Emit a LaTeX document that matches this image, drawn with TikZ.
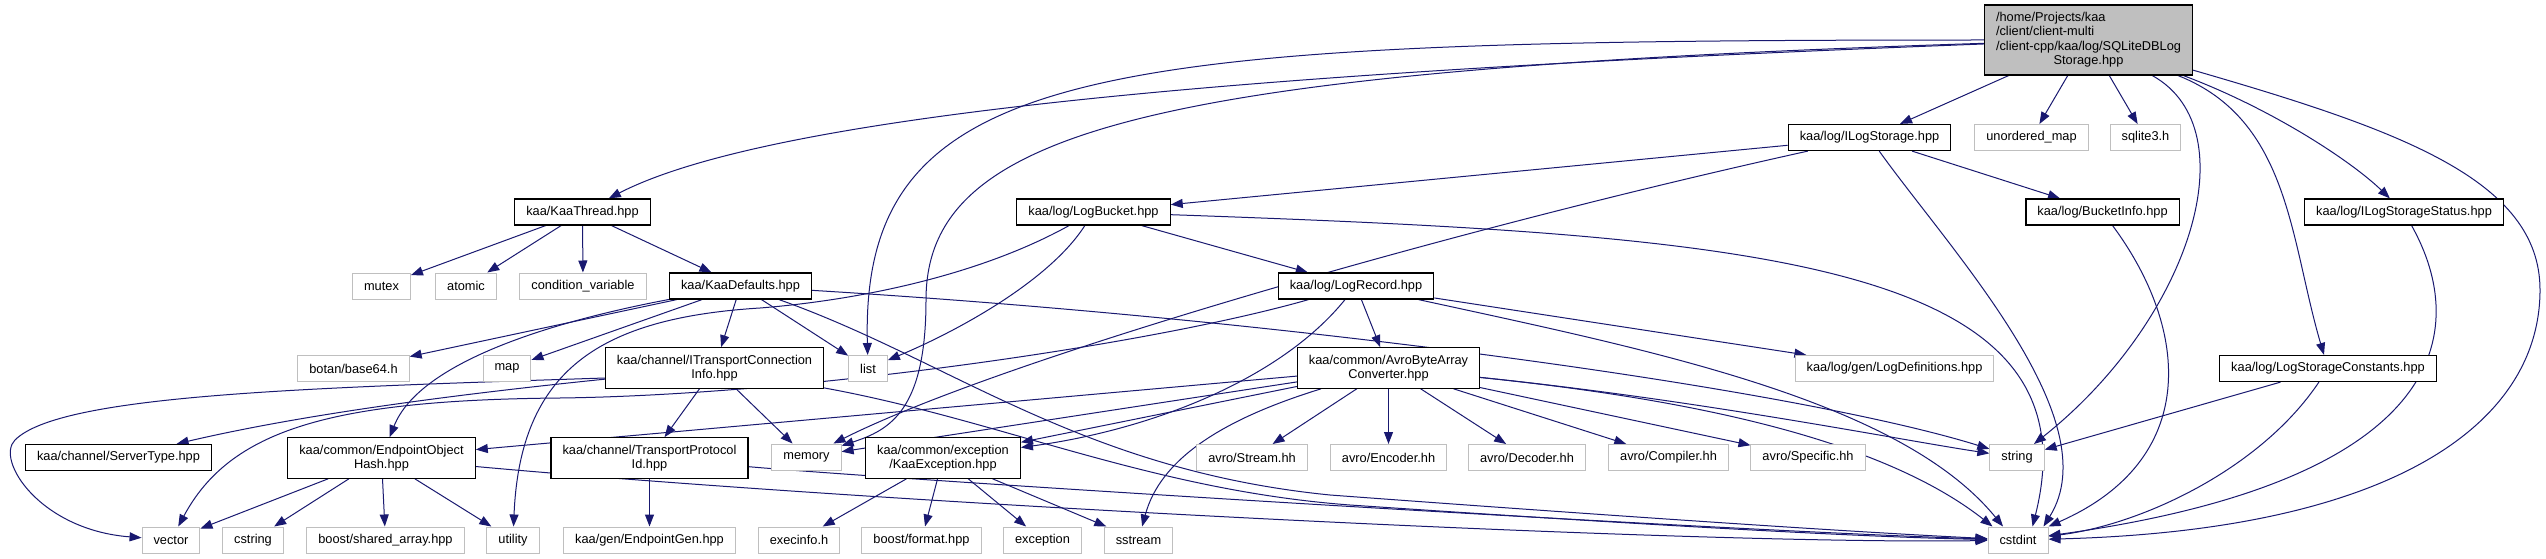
\documentclass[tikz,border=0pt]{standalone}
\usepackage{fontspec}
\setmainfont{Liberation Sans}
\usepackage{xcolor}
\usetikzlibrary{arrows.meta}
\definecolor{depblue}{HTML}{191970}
\definecolor{sysgray}{HTML}{BFBFBF}
\pgfdeclarelayer{edgelayer}
\pgfsetlayers{edgelayer,main}

\begin{document}
\begin{tikzpicture}[x=1pt,y=-1pt,
    hdr/.style={draw=black,line width=1.2pt,fill=white,inner xsep=11.5pt,inner ysep=7pt,minimum height=26pt,align=center,font=\fontsize{12.8}{14.5}\selectfont},
    sys/.style={hdr,draw=sysgray,line width=1pt},
    dep/.style={draw=depblue,line width=1pt,-{Triangle[length=12pt,width=9pt]}}]
  \useasboundingbox (0,0) rectangle (2546,559);

  \node[hdr,fill=sysgray,inner ysep=6pt] (root) at (2088.5,40) {\begin{tabular}{@{}l@{}}/home/Projects/kaa\\/client/client-multi\\/client-cpp/kaa/log/SQLiteDBLog\\\multicolumn{1}{@{}c@{}}{Storage.hpp}\end{tabular}};

  \node[hdr] (ilogstorage) at (1869.5,137.5) {kaa/log/ILogStorage.hpp};
  \node[sys] (umap) at (2031.5,137.5) {unordered\_map};
  \node[sys] (sqlite) at (2145.5,137.5) {sqlite3.h};

  \node[hdr] (kaathread) at (582.5,212) {kaa/KaaThread.hpp};
  \node[hdr] (logbucket) at (1093.5,212) {kaa/log/LogBucket.hpp};
  \node[hdr] (bucketinfo) at (2102.5,212) {kaa/log/BucketInfo.hpp};
  \node[hdr] (ilsstatus) at (2404,212) {kaa/log/ILogStorageStatus.hpp};

  \node[sys] (mutex) at (381.5,286) {mutex};
  \node[sys] (atomic) at (466,286) {atomic};
  \node[sys] (condvar) at (583,286) {condition\_variable};
  \node[hdr] (kaadefaults) at (740.5,286) {kaa/KaaDefaults.hpp};
  \node[hdr] (logrecord) at (1356,286) {kaa/log/LogRecord.hpp};

  \node[sys] (botan) at (353.5,368.5) {botan/base64.h};
  \node[sys] (map) at (507,368.5) {map};
  \node[hdr] (itci) at (714.5,368) {kaa/channel/ITransportConnection\\Info.hpp};
  \node[sys] (list) at (868,368.5) {list};
  \node[hdr] (avroconv) at (1388.5,368) {kaa/common/AvroByteArray\\Converter.hpp};
  \node[sys] (logdefs) at (1894.5,368.5) {kaa/log/gen/LogDefinitions.hpp};
  \node[hdr] (lsconst) at (2328,368.5) {kaa/log/LogStorageConstants.hpp};

  \node[hdr] (servertype) at (118.5,457.5) {kaa/channel/ServerType.hpp};
  \node[hdr] (eohash) at (381.5,458) {kaa/common/EndpointObject\\Hash.hpp};
  \node[hdr] (tprotoid) at (649.5,458) {kaa/channel/TransportProtocol\\Id.hpp};
  \node[sys] (memory) at (806.5,457) {memory};
  \node[hdr] (kaaexc) at (943,458) {kaa/common/exception\\/KaaException.hpp};
  \node[sys] (avstream) at (1252,457.5) {avro/Stream.hh};
  \node[sys] (avencoder) at (1388.5,457.5) {avro/Encoder.hh};
  \node[sys] (avdecoder) at (1527,457.5) {avro/Decoder.hh};
  \node[sys] (avcompiler) at (1668.5,457.5) {avro/Compiler.hh};
  \node[sys] (avspecific) at (1808,457.5) {avro/Specific.hh};
  \node[sys] (string) at (2017,457.5) {string};

  \node[sys] (vector) at (171,540) {vector};
  \node[sys] (cstring) at (253,540) {cstring};
  \node[sys] (sharedarr) at (385.5,540) {boost/shared\_array.hpp};
  \node[sys] (utility) at (513,540) {utility};
  \node[sys] (epgen) at (649.5,540) {kaa/gen/EndpointGen.hpp};
  \node[sys] (execinfo) at (799,540) {execinfo.h};
  \node[sys] (bformat) at (921.5,540) {boost/format.hpp};
  \node[sys] (exception) at (1042.5,540) {exception};
  \node[sys] (sstream) at (1138.5,540) {sstream};
  \node[sys] (cstdint) at (2018,540) {cstdint};

  \begin{pgfonlayer}{edgelayer}
  \fill[white] (0,0) rectangle (2546,559);
  \foreach \a/\b in {root/ilogstorage,root/umap,root/sqlite,ilogstorage/logbucket,ilogstorage/bucketinfo,
      kaathread/mutex,kaathread/atomic,kaathread/condvar,kaathread/kaadefaults,
      kaadefaults/botan,kaadefaults/map,kaadefaults/itci,kaadefaults/list,
      logbucket/logrecord,logrecord/avroconv,logrecord/logdefs,itci/tprotoid,itci/memory,
      avroconv/avstream,avroconv/avencoder,avroconv/avdecoder,avroconv/avcompiler,avroconv/avspecific,
      avroconv/eohash,avroconv/memory,avroconv/kaaexc,
      eohash/vector,eohash/cstring,eohash/sharedarr,eohash/utility,tprotoid/epgen,
      kaaexc/execinfo,kaaexc/bformat,kaaexc/exception,kaaexc/sstream,lsconst/string}
    \draw[dep] (\a) -- (\b);

  \draw[dep] (root) .. controls (1300,70) and (780,110) .. (kaathread);
  \draw[dep] (root) .. controls (1100,40) and (860,60) .. (list);
  \draw[dep] (root) .. controls (1150,70) and (926,130) .. (926,300) .. controls (926,410) and (890,430) .. (memory);
  \draw[dep] (root) .. controls (2250,130) and (2190,320) .. (string);
  \draw[dep] (root) .. controls (2290,120) and (2290,240) .. (lsconst);
  \draw[dep] (root) .. controls (2270,108) and (2350,160) .. (ilsstatus);
  \draw[dep] (root) .. controls (2400,130) and (2540,180) .. (2540,290) .. controls (2540,420) and (2400,530) .. (cstdint);

  \draw[dep] (ilogstorage) .. controls (1450,230) and (1000,360) .. (memory);
  \draw[dep] (ilogstorage) .. controls (1950,250) and (2110,420) .. ([xshift=-5pt]cstdint.north east);
  \draw[dep] (bucketinfo) .. controls (2190,330) and (2200,460) .. (cstdint.north east);
  \draw[dep] (ilsstatus) .. controls (2470,330) and (2450,480) .. (cstdint);
  \draw[dep] (lsconst) .. controls (2260,470) and (2140,525) .. (cstdint);

  \draw[dep] (kaadefaults) .. controls (560,320) and (420,360) .. (eohash);
  \draw[dep] (kaadefaults) .. controls (1300,320) and (1800,390) .. (string);
  \draw[dep] (kaadefaults) .. controls (950,360) and (1080,470) .. (1330,495) .. controls (1600,515) and (1850,532) .. (cstdint);

  \draw[dep] (logbucket) .. controls (1050,280) and (960,330) .. (list);
  \draw[dep] (logbucket) .. controls (980,275) and (860,300) .. (760,308) .. controls (600,318) and (520,370) .. (utility);
  \draw[dep] (logbucket) .. controls (1750,235) and (2100,260) .. ([xshift=-16pt]cstdint.north east);

  \draw[dep] (logrecord) .. controls (1280,380) and (1150,430) .. (kaaexc);
  \draw[dep] (logrecord) .. controls (1150,345) and (800,395) .. (560,398) .. controls (330,400) and (230,430) .. (vector);
  \draw[dep] (logrecord) .. controls (1650,350) and (1900,400) .. ([xshift=-15pt]cstdint.north);

  \draw[dep] (itci) .. controls (450,395) and (300,415) .. (servertype);
  \draw[dep] ([yshift=-10pt]itci.west) .. controls (300,388) and (60,395) .. (15,440) .. controls (-5,460) and (40,530) .. (vector);
  \draw[dep] (itci) .. controls (1000,420) and (1150,490) .. (1350,505) .. controls (1600,522) and (1850,537) .. (cstdint);

  \draw[dep] (eohash) .. controls (900,505) and (1700,545) .. (cstdint);
  \draw[dep] (tprotoid) .. controls (900,480) and (1700,530) .. (cstdint);

  \draw[dep] (avroconv) .. controls (1700,400) and (1900,440) .. (string);
  \draw[dep] (avroconv) .. controls (1650,395) and (1870,430) .. ([xshift=5pt]cstdint.north west);
  \draw[dep] (avroconv) .. controls (1220,420) and (1160,460) .. (sstream);
  \end{pgfonlayer}
\end{tikzpicture}
\end{document}
